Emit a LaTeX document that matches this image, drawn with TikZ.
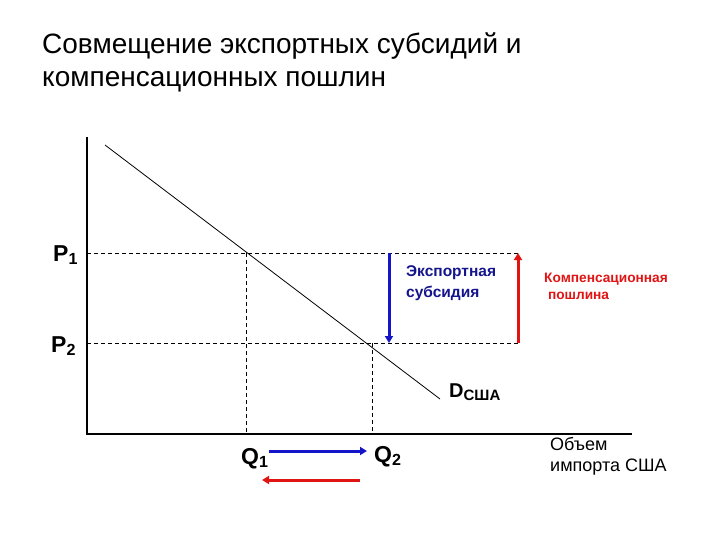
\documentclass[tikz,border=0pt]{standalone}
\usepackage{fontspec}
\setmainfont{Liberation Sans}
\usetikzlibrary{arrows.meta}
\definecolor{arrblue}{RGB}{20,20,200}
\definecolor{txtblue}{RGB}{20,20,140}
\definecolor{arrred}{RGB}{225,20,20}
\tikzset{
  axis/.style={draw=black, line width=1.2pt},
  guide/.style={draw=black, line width=0.7pt, dash pattern=on 4pt off 3pt},
  demand/.style={draw=black, line width=0.8pt},
  bluearr/.style={draw=arrblue, line width=3pt, -{Triangle[length=7pt,width=8pt]}},
  redarr/.style={draw=arrred, line width=3pt, -{Triangle[length=7pt,width=8pt]}},
  biglbl/.style={font=\bfseries\fontsize{23}{23}\selectfont, inner sep=0pt, anchor=base west},
  title/.style={font=\fontsize{28}{32}\selectfont, anchor=base west, inner sep=0pt},
}
\begin{document}
\begin{tikzpicture}[x=1pt,y=-1pt]
\useasboundingbox (0,0) rectangle (720,540);
\node[title] (t1) at (42,54) {Совмещение экспортных субсидий и};
\node[title] (t2) at (42,87) {компенсационных пошлин};
% axes
\coordinate (o) at (87,434);
\coordinate (ytop) at (87,137);
\coordinate (xend) at (632,434);
\draw[axis] (ytop) -- (o) -- (xend);
% demand
\coordinate (d1) at (105,145);
\coordinate (d2) at (440,399);
\draw[demand] (d1) -- (d2);
% guides
\coordinate (p1l) at (87,253);
\coordinate (p1r) at (518,253);
\coordinate (p2l) at (87,343);
\coordinate (p2r) at (518,343);
\coordinate (q1t) at (246,253);
\coordinate (q1b) at (246,434);
\coordinate (q2t) at (372,343);
\coordinate (q2b) at (372,434);
\draw[guide] (p1l) -- (p1r);
\draw[guide] (p2l) -- (p2r);
\draw[guide] (q1t) -- (q1b);
\draw[guide] (q2t) -- (q2b);
% vertical arrows
\coordinate (ba1) at (389,253);
\coordinate (ba2) at (389,343);
\coordinate (ra1) at (518,343);
\coordinate (ra2) at (518,253);
\draw[bluearr] (ba1) -- (ba2);
\draw[redarr] (ra1) -- (ra2);
% horizontal arrows
\coordinate (hb1) at (269,451);
\coordinate (hb2) at (367,451);
\coordinate (hr1) at (360,480);
\coordinate (hr2) at (262,480);
\draw[bluearr] (hb1) -- (hb2);
\draw[redarr] (hr1) -- (hr2);
% labels
\node[biglbl] (P1) at (53,261) {P\textsubscript{1}};
\node[biglbl] (P2) at (51,352) {P\textsubscript{2}};
\node[biglbl] (Q1) at (241,464) {Q\textsubscript{1}};
\node[biglbl] (Q2) at (374,462) {Q\textsubscript{2}};
\node[anchor=base west, inner sep=0pt, font=\bfseries\fontsize{20}{20}\selectfont] (D) at (449,397) {D\textsubscript{\fontsize{15}{15}\selectfont США}};
\node[text=txtblue, align=left, anchor=north west, inner sep=0pt, font=\bfseries\fontsize{15.5}{21}\selectfont] (es) at (406,265) {Экспортная\\субсидия};
\node[text=arrred, align=left, anchor=north west, inner sep=0pt, font=\bfseries\fontsize{13.7}{17}\selectfont] (cp) at (544,273) {Компенсационная\\\ пошлина};
\node[align=left, anchor=north west, inner sep=0pt, font=\fontsize{18}{21}\selectfont] (vol) at (550,437) {Объем\\импорта США};
\end{tikzpicture}
\end{document}
